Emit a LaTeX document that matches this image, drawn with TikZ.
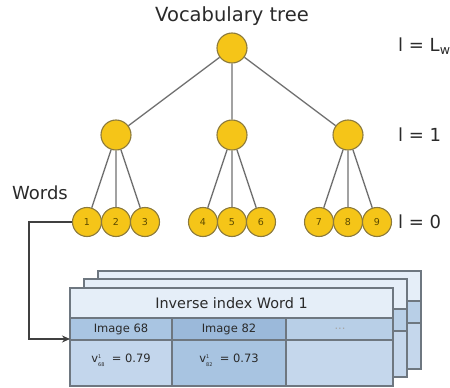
\documentclass[tikz,border=0pt]{standalone}
\usepackage{fontspec}
\setmainfont{DejaVu Sans}
\usetikzlibrary{arrows.meta}
\definecolor{gold}{HTML}{F5C518}
\definecolor{goldline}{HTML}{8C7A3C}
\definecolor{goldtext}{HTML}{5C4A00}
\definecolor{edge}{HTML}{707070}
\definecolor{hdr}{HTML}{E5EEF8}
\definecolor{ca}{HTML}{A9C5E2}
\definecolor{cb}{HTML}{9BB9DA}
\definecolor{cc}{HTML}{B8CFE7}
\definecolor{cd}{HTML}{C3D6EC}
\definecolor{ce}{HTML}{A8C4E1}
\definecolor{cf}{HTML}{C5D7EC}
\definecolor{cardline}{HTML}{6E7780}
\definecolor{txt}{HTML}{2A2A2A}
\newcommand\drawcard[1]{%
\begin{scope}[shift={#1}]
\fill[hdr] (70,288) rectangle (393,318);
\fill[ca] (70,318) rectangle (172,340);
\fill[cb] (172,318) rectangle (286,340);
\fill[cc] (286,318) rectangle (393,340);
\fill[cd] (70,340) rectangle (172,386);
\fill[ce] (172,340) rectangle (286,386);
\fill[cf] (286,340) rectangle (393,386);
\draw[cardline,line width=1.3pt] (70,288) rectangle (393,386)
  (70,318) -- (393,318) (70,340) -- (393,340)
  (172,318) -- (172,386) (286,318) -- (286,386);
\end{scope}}
\newcommand\scrstack[2]{\raisebox{0.1ex}{\fontsize{5}{7.5}\selectfont\begin{tabular}{@{}l@{}}#1\\#2\end{tabular}}}
\begin{document}
\begin{tikzpicture}[x=1pt,y=-1pt,
  tnode/.style={circle,draw=goldline,fill=gold,line width=1.1pt,minimum size=30pt,inner sep=0pt},
  leaf/.style={tnode,minimum size=29pt,font=\fontsize{9.5}{9.5}\selectfont,text=goldtext},
  edgeline/.style={draw=edge,line width=1.3pt},
  lbl/.style={font=\fontsize{18}{18}\selectfont,text=txt,inner sep=0pt},
  celltxt/.style={font=\fontsize{11.5}{12}\selectfont,text=txt,inner sep=0pt}]
\useasboundingbox (0,0) rectangle (450,388);
% tree
\node[tnode] (r) at (232,48) {};
\node[tnode] (a) at (116,135) {};
\node[tnode] (b) at (232,135) {};
\node[tnode] (c) at (348,135) {};
\foreach \n/\x in {1/87,2/116,3/145,4/203,5/232,6/261,7/319,8/348,9/377}
  \node[leaf] (w\n) at (\x,222) {\n};
\draw[edgeline] (r) -- (a) (r) -- (b) (r) -- (c);
\draw[edgeline] (a) -- (w1) (a) -- (w2) (a) -- (w3)
  (b) -- (w4) (b) -- (w5) (b) -- (w6)
  (c) -- (w7) (c) -- (w8) (c) -- (w9);
% labels
\node[lbl,font=\fontsize{19.5}{20}\selectfont] (title) at (232,16) {Vocabulary tree};
\node[lbl,anchor=west] (words) at (12,193) {Words};
\node[lbl,anchor=west] (lL) at (398,46) {l = L\textsubscript{w}};
\node[lbl,anchor=west] (l1) at (398,135) {l = 1};
\node[lbl,anchor=west] (l0) at (398,222) {l = 0};
% cards
\drawcard{(28,-17)}
\drawcard{(14,-9)}
\drawcard{(0,0)}
\node[font=\fontsize{14.4}{15}\selectfont,text=txt,inner sep=0pt] (hdrtxt) at (231.5,303) {Inverse index Word 1};
\node[celltxt] (i68) at (121,329) {Image 68};
\node[celltxt] (i82) at (229,329) {Image 82};
\node[celltxt,text=gray!70] (dots) at (340,329) {...};
\node[celltxt] (v68) at (121,361) {v\scrstack{1}{68}\ \ = 0.79};
\node[celltxt] (v82) at (229,361) {v\scrstack{1}{82}\ \ = 0.73};
% connector
\coordinate (tin) at (70,339);
\draw[edgeline,-{Stealth[length=8pt,width=7pt]},draw=black!75] (w1.west) -- ++(-43,0) |- (tin);
\end{tikzpicture}
\end{document}
